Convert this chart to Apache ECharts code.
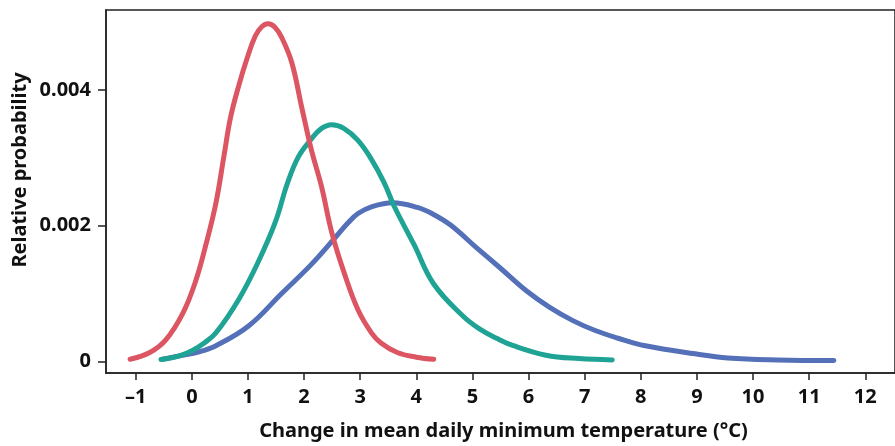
<!DOCTYPE html>
<html><head><meta charset="utf-8">
<script src="https://cdn.jsdelivr.net/npm/echarts@6/dist/echarts.min.js"></script>
<style>html,body{margin:0;padding:0;background:#fff}#c{width:895px;height:446px}</style>
</head><body><div id="c"></div>
<script>
const xTicks = [-1,0,1,2,3,4,5,6,7,8,9,10,11,12];
const yTicks = [0, 0.002, 0.004];

const redX = [-1.10,-0.75,-0.46,-0.16,0.07,0.25,0.43,0.57,0.69,0.84,0.98,1.13,1.25,1.36,1.48,1.60,1.78,1.96,2.13,2.31,2.49,2.72,2.96,3.20,3.37,3.66,4.00,4.31];
const redY = [0.00003,0.00013,0.00032,0.00071,0.00119,0.00172,0.00234,0.00302,0.00360,0.00408,0.00446,0.00480,0.00494,0.00498,0.00493,0.00478,0.00441,0.00374,0.00312,0.00258,0.00191,0.00129,0.00076,0.00042,0.00027,0.00013,0.00006,0.00003];

const greenX = [-0.55,-0.22,0.01,0.22,0.43,0.84,1.19,1.49,1.70,1.90,2.13,2.30,2.49,2.70,2.96,3.20,3.43,3.61,3.96,4.31,4.84,5.14,5.43,5.73,6.31,6.90,7.49];
const greenY = [0.000025,0.00008,0.00016,0.00027,0.00042,0.00092,0.00148,0.00206,0.00262,0.00302,0.00328,0.00343,0.00349,0.00344,0.00326,0.00298,0.00263,0.00228,0.00172,0.00114,0.00066,0.00047,0.00034,0.00023,0.00009,0.00004,0.00002];

const blueX = [-0.52,-0.22,0.13,0.43,1.01,1.60,2.13,2.55,2.78,2.96,3.20,3.58,4.02,4.30,4.61,5.08,5.49,5.96,6.37,6.79,7.20,7.60,8.08,8.97,9.55,10.44,11.44];
const blueY = [0.00003,0.00008,0.00014,0.00023,0.00052,0.00100,0.00143,0.00182,0.00204,0.00218,0.00228,0.00234,0.00227,0.00217,0.00201,0.00167,0.00138,0.00104,0.00080,0.00060,0.00045,0.00034,0.00023,0.00011,0.00005,0.00002,0.00001];

const xName = 'Change in mean daily minimum temperature (°C)';
const yName = 'Relative probability';

const zip = (xs, ys) => xs.map((x, i) => [x, ys[i]]);
const FONT = '"Noto Sans", "Open Sans", sans-serif';

const chart = echarts.init(document.getElementById('c'), null, {renderer: 'canvas'});
const lineSeries = (data, color) => ({
  type: 'line', data, smooth: 0.4, showSymbol: false, symbol: 'none',
  lineStyle: {color, width: 5, cap: 'round', join: 'round'}, animation: false
});
chart.setOption({
  animation: false,
  backgroundColor: '#fff',
  grid: {left: 106, top: 10, width: 796, height: 371, show: true, borderColor: '#222', borderWidth: 1.5, backgroundColor: 'transparent'},
  xAxis: {
    type: 'value', min: -1.53, max: 12.53,
    name: xName, nameLocation: 'middle', nameGap: 48, nameTextStyle: {fontFamily: FONT, fontWeight: 'bold', fontSize: 20, color: '#111', padding: [0, 0, 0, 6]},
    axisLine: {show: true, onZero: false, lineStyle: {color: '#222', width: 1.5}},
    axisTick: {show: true, length: 7, customValues: xTicks, lineStyle: {color: '#222', width: 1.5}},
    axisLabel: {customValues: xTicks, margin: 14, fontFamily: FONT, fontWeight: 'bold', fontSize: 20, color: '#111',
      formatter: v => String(v).replace('-', '\u2013')},
    splitLine: {show: false}
  },
  yAxis: {
    type: 'value', min: -0.000173, max: 0.005184,
    axisLine: {show: true, onZero: false, lineStyle: {color: '#222', width: 1.5}},
    axisTick: {show: true, length: 8, customValues: yTicks, lineStyle: {color: '#222', width: 1.5}},
    axisLabel: {customValues: yTicks, margin: 15, fontFamily: FONT, fontWeight: 'bold', fontSize: 20, color: '#111',
      formatter: v => v === 0 ? '0' : v.toFixed(3)},
    splitLine: {show: false}
  },
  graphic: [{
    type: 'text', x: 20, y: 170, rotation: Math.PI / 2,
    style: {text: yName, fontFamily: FONT, fontWeight: 'bold', fontSize: 20, fill: '#111', align: 'center', verticalAlign: 'middle'}
  }],
  series: [
    lineSeries(zip(blueX, blueY), '#5470b8'),
    lineSeries(zip(greenX, greenY), '#1fa394'),
    lineSeries(zip(redX, redY), '#dc5562')
  ]
});
</script></body></html>
